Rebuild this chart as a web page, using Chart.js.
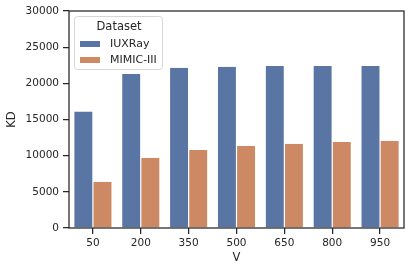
<!DOCTYPE html>
<html>
<head>
<meta charset="utf-8">
<script src="https://cdn.jsdelivr.net/npm/chart.js@4/dist/chart.umd.min.js"></script>
<style>
  html, body { margin: 0; padding: 0; background: #fff; }
  #wrap { width: 410px; height: 272px; }
</style>
</head>
<body>
<div id="wrap"><canvas id="kdChart" width="410" height="272"></canvas></div>
<script>
// data
const vLabels = ['50', '200', '350', '500', '650', '800', '950'];
const iuxrayKD = [16100, 21300, 22150, 22300, 22400, 22400, 22400];
const mimicKD = [6400, 9700, 10800, 11350, 11650, 11900, 12050];
const yTicks = [0, 5000, 10000, 15000, 20000, 25000, 30000];

const textColor = '#262626';
const fontFamily = '"DejaVu Sans", sans-serif';

// frame round the plot + legend inside the axes, seaborn style
const framePlugin = {
  id: 'frame',
  afterDatasetsDraw(chart) {
    const { ctx, chartArea: a } = chart;
    ctx.save();
    ctx.strokeStyle = textColor;
    ctx.lineWidth = 1.25;
    ctx.strokeRect(a.left, a.top, a.right - a.left, a.bottom - a.top);

    // legend box
    const x = a.left + 5, y = a.top + 5, w = 88, h = 53;
    ctx.fillStyle = 'rgba(255,255,255,0.8)';
    ctx.strokeStyle = '#d6d6d6';
    ctx.lineWidth = 1;
    ctx.beginPath();
    ctx.roundRect(x + 0.5, y + 0.5, w, h, 3);
    ctx.fill();
    ctx.stroke();

    ctx.fillStyle = textColor;
    ctx.textBaseline = 'middle';
    ctx.textAlign = 'center';
    ctx.font = '11.5px ' + fontFamily;
    ctx.fillText('Dataset', x + w / 2 + 1, y + 11);

    ctx.textAlign = 'left';
    ctx.font = '11px ' + fontFamily;
    chart.data.datasets.forEach((ds, i) => {
      const ry = y + 28 + i * 16;
      ctx.fillStyle = ds.backgroundColor;
      ctx.fillRect(x + 6, ry - 3, 20, 6);
      ctx.fillStyle = textColor;
      ctx.fillText(ds.label, x + 36, ry);
    });
    ctx.restore();
  }
};

new Chart(document.getElementById('kdChart'), {
  type: 'bar',
  data: {
    labels: vLabels,
    datasets: [
      {
        label: 'IUXRay',
        data: iuxrayKD,
        backgroundColor: '#5975a4',
        borderColor: '#ffffff',
        borderWidth: { left: 0.6, right: 0.6, top: 0, bottom: 0 },
        categoryPercentage: 0.8,
        barPercentage: 1.0
      },
      {
        label: 'MIMIC-III',
        data: mimicKD,
        backgroundColor: '#cc8963',
        borderColor: '#ffffff',
        borderWidth: { left: 0.6, right: 0.6, top: 0, bottom: 0 },
        categoryPercentage: 0.8,
        barPercentage: 1.0
      }
    ]
  },
  options: {
    responsive: false,
    animation: false,
    layout: { padding: { top: 11, right: 6, bottom: 0, left: 0 } },
    plugins: {
      legend: { display: false },
      tooltip: { enabled: false }
    },
    scales: {
      x: {
        grid: {
          offset: false,
          drawOnChartArea: false,
          drawTicks: true,
          tickLength: 6,
          color: textColor,
          lineWidth: 1.25
        },
        border: { display: false },
        ticks: { color: textColor, font: { family: fontFamily, size: 10.5 }, padding: 3 },
        title: {
          display: true,
          text: 'V',
          color: textColor,
          font: { family: fontFamily, size: 11.5 },
          padding: { top: 0, bottom: 7 }
        },
        afterFit(scale) { scale.height = 44; }
      },
      y: {
        min: 0,
        max: 30000,
        afterBuildTicks(scale) { scale.ticks = yTicks.map(v => ({ value: v })); },
        grid: {
          drawOnChartArea: false,
          drawTicks: true,
          tickLength: 6,
          color: textColor,
          lineWidth: 1.25
        },
        border: { display: false },
        ticks: {
          color: textColor,
          font: { family: fontFamily, size: 10.5 },
          padding: 4,
          callback: v => String(v)
        },
        title: {
          display: true,
          text: 'KD',
          color: textColor,
          font: { family: fontFamily, size: 11.5 },
          padding: { top: 5, bottom: 0 }
        },
        afterFit(scale) { scale.width = 69; }
      }
    }
  },
  plugins: [framePlugin]
});
</script>
</body>
</html>
